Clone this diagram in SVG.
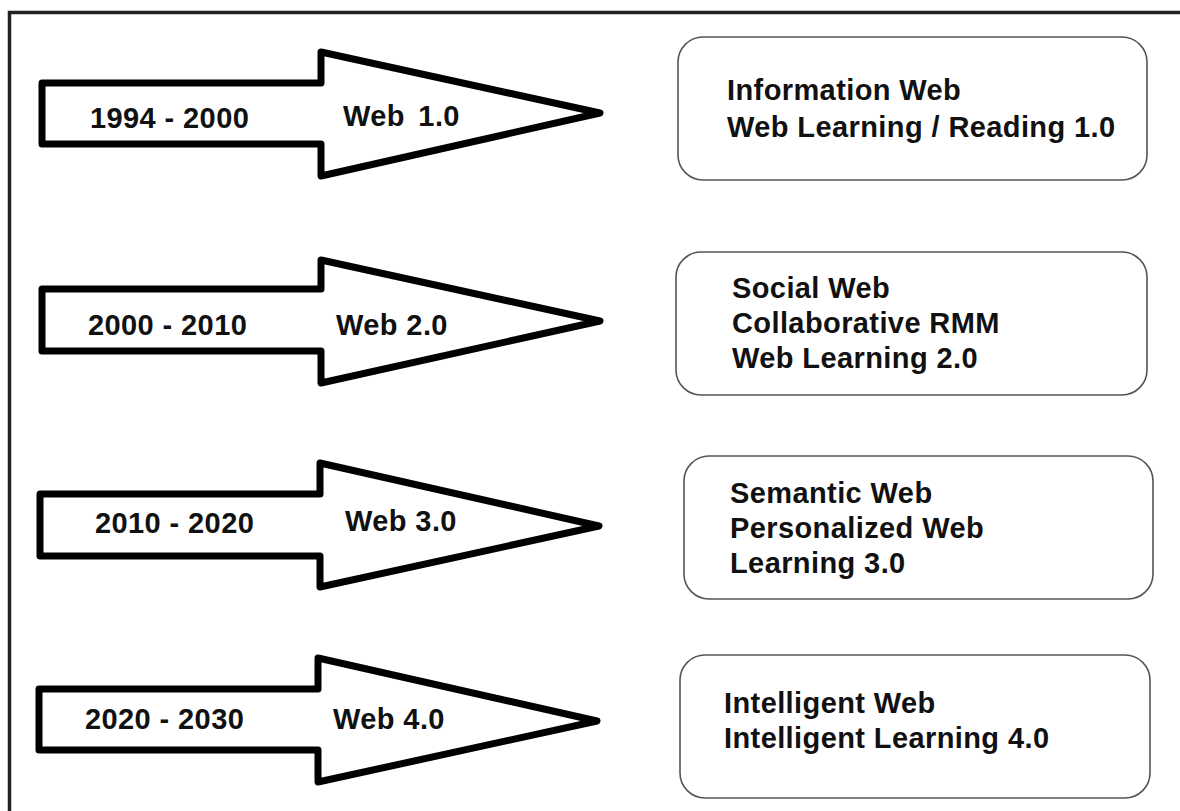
<svg xmlns="http://www.w3.org/2000/svg" width="1180" height="811" viewBox="0 0 1180 811">
  <style>
    .frame { fill: none; stroke: #222; stroke-width: 3.5; }
    .arrow { fill: #fff; stroke: #000; stroke-width: 7; stroke-linejoin: round; }
    .box { fill: #fff; stroke: #555; stroke-width: 1.6; }
    .t { font-family: "Liberation Sans", Arial, sans-serif; font-weight: bold; font-size: 29px; letter-spacing: 0.4px; fill: #111; }
  </style>
  <rect width="1180" height="811" fill="#fff"/>
  <path class="frame" d="M9.5,811 V12.5 H1180"/>

  <g id="connectors">
    <g id="arrow1">
      <path class="arrow" d="M42,83 H321 V52 L600,113 L321,176 V144 H42 Z"/>
      <text class="t" x="90" y="128">1994 - 2000</text>
      <text class="t" x="343" y="126" word-spacing="5">Web 1.0</text>
    </g>
    <g id="arrow2">
      <path class="arrow" d="M42,289 H321 V260 L600,321 L321,383 V351 H42 Z"/>
      <text class="t" x="88" y="335">2000 - 2010</text>
      <text class="t" x="336" y="335">Web 2.0</text>
    </g>
    <g id="arrow3">
      <path class="arrow" d="M40,494 H320 V463 L599,526 L320,587 V556 H40 Z"/>
      <text class="t" x="95" y="533">2010 - 2020</text>
      <text class="t" x="345" y="531">Web 3.0</text>
    </g>
    <g id="arrow4">
      <path class="arrow" d="M39,689 H318 V658 L597,721 L318,782 V750 H39 Z"/>
      <text class="t" x="85" y="729">2020 - 2030</text>
      <text class="t" x="333" y="729">Web 4.0</text>
    </g>
  </g>

  <g id="box1">
    <rect class="box" x="678" y="37" width="469" height="143" rx="25"/>
    <text class="t" x="727" y="100">Information Web</text>
    <text class="t" x="727" y="137">Web Learning / Reading 1.0</text>
  </g>
  <g id="box2">
    <rect class="box" x="676" y="252" width="471" height="143" rx="25"/>
    <text class="t" x="732" y="298">Social Web</text>
    <text class="t" x="732" y="333">Collaborative RMM</text>
    <text class="t" x="732" y="368">Web Learning 2.0</text>
  </g>
  <g id="box3">
    <rect class="box" x="684" y="456" width="469" height="143" rx="25"/>
    <text class="t" x="730" y="503">Semantic Web</text>
    <text class="t" x="730" y="538">Personalized Web</text>
    <text class="t" x="730" y="573">Learning 3.0</text>
  </g>
  <g id="box4">
    <rect class="box" x="680" y="655" width="470" height="143" rx="25"/>
    <text class="t" x="724" y="713">Intelligent Web</text>
    <text class="t" x="724" y="748">Intelligent Learning 4.0</text>
  </g>
</svg>
